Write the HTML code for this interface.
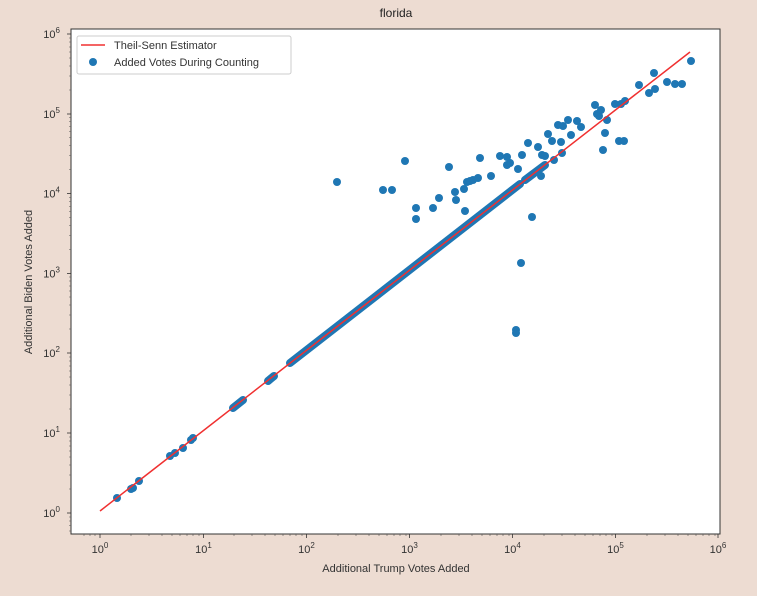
<!DOCTYPE html>
<html><head><meta charset="utf-8"><style>
html,body{margin:0;padding:0;background:#eddcd2;}
svg{display:block;font-family:"Liberation Sans","DejaVu Sans",sans-serif;}
</style></head><body>
<svg width="757" height="596" viewBox="0 0 757 596">
<rect width="757" height="596" fill="#eddcd2"/>
<rect x="71" y="29" width="649" height="505" fill="#fff" stroke="#333" stroke-width="1"/>
<text x="396" y="17" font-size="12" text-anchor="middle" fill="#222">florida</text>
<g stroke="#333" stroke-width="0.8">
<line x1="100" y1="534" x2="100" y2="538"/><line x1="203.5" y1="534" x2="203.5" y2="538"/><line x1="306.5" y1="534" x2="306.5" y2="538"/><line x1="409.5" y1="534" x2="409.5" y2="538"/><line x1="512.5" y1="534" x2="512.5" y2="538"/><line x1="615.5" y1="534" x2="615.5" y2="538"/><line x1="718" y1="534" x2="718" y2="538"/>
<line x1="67" y1="513" x2="71" y2="513"/><line x1="67" y1="433" x2="71" y2="433"/><line x1="67" y1="353" x2="71" y2="353"/><line x1="67" y1="273.5" x2="71" y2="273.5"/><line x1="67" y1="193.5" x2="71" y2="193.5"/><line x1="67" y1="114" x2="71" y2="114"/><line x1="67" y1="34" x2="71" y2="34"/>
</g>
<path stroke="#555" stroke-width="0.6" fill="none" d="
M84 534v2M90 534v2M95 534v2
M131 534v2M149 534v2M162 534v2M172 534v2M180 534v2M187 534v2M193 534v2M199 534v2
M234 534v2M252 534v2M265 534v2M275 534v2M283 534v2M290 534v2M296 534v2M302 534v2
M338 534v2M356 534v2M369 534v2M379 534v2M387 534v2M394 534v2M400 534v2M406 534v2
M441 534v2M459 534v2M472 534v2M482 534v2M490 534v2M497 534v2M503 534v2M509 534v2
M544 534v2M562 534v2M575 534v2M585 534v2M593 534v2M600 534v2M606 534v2M612 534v2
M647 534v2M665 534v2M678 534v2M688 534v2M696 534v2M703 534v2M709 534v2M715 534v2
M69 531h2M69 525.5h2M69 521h2M69 517h2
M69 489h2M69 475h2M69 465h2M69 457h2M69 451h2M69 446h2M69 441h2M69 437h2
M69 409h2M69 395h2M69 385h2M69 377h2M69 371h2M69 366h2M69 361h2M69 357h2
M69 329h2M69 315h2M69 305h2M69 297h2M69 291h2M69 286h2M69 281h2M69 277h2
M69 249.5h2M69 235.5h2M69 225.5h2M69 217.5h2M69 211.5h2M69 206.5h2M69 201.5h2M69 197.5h2
M69 169.5h2M69 155.5h2M69 145.5h2M69 137.5h2M69 131.5h2M69 126.5h2M69 121.5h2M69 117.5h2
M69 90h2M69 76h2M69 66h2M69 58h2M69 52h2M69 47h2M69 42h2M69 38h2"/>
<g font-size="11" fill="#333" text-anchor="middle">
<text x="100" y="553">10<tspan font-size="8" dy="-5">0</tspan></text>
<text x="203.5" y="553">10<tspan font-size="8" dy="-5">1</tspan></text>
<text x="306.5" y="553">10<tspan font-size="8" dy="-5">2</tspan></text>
<text x="409.5" y="553">10<tspan font-size="8" dy="-5">3</tspan></text>
<text x="512.5" y="553">10<tspan font-size="8" dy="-5">4</tspan></text>
<text x="615.5" y="553">10<tspan font-size="8" dy="-5">5</tspan></text>
<text x="718" y="553">10<tspan font-size="8" dy="-5">6</tspan></text>
</g>
<g font-size="11" fill="#333" text-anchor="end">
<text x="60" y="517">10<tspan font-size="8" dy="-5">0</tspan></text>
<text x="60" y="437">10<tspan font-size="8" dy="-5">1</tspan></text>
<text x="60" y="357">10<tspan font-size="8" dy="-5">2</tspan></text>
<text x="60" y="277.5">10<tspan font-size="8" dy="-5">3</tspan></text>
<text x="60" y="197.5">10<tspan font-size="8" dy="-5">4</tspan></text>
<text x="60" y="118">10<tspan font-size="8" dy="-5">5</tspan></text>
<text x="60" y="38">10<tspan font-size="8" dy="-5">6</tspan></text>
</g>
<text x="396" y="572" font-size="11" fill="#333" text-anchor="middle">Additional Trump Votes Added</text>
<text x="32" y="282" font-size="11" fill="#333" text-anchor="middle" transform="rotate(-90 32 282)">Additional Biden Votes Added</text>
<g stroke="#1f77b4" stroke-width="8" stroke-linecap="round">
<line x1="233" y1="408" x2="243" y2="400"/>
<line x1="268" y1="381" x2="274" y2="376"/>
<line x1="290" y1="363" x2="520" y2="184"/>
<line x1="525" y1="180" x2="545" y2="165"/>
</g>
<g fill="#1f77b4">
<circle cx="117" cy="498" r="4"/><circle cx="131" cy="489" r="4"/><circle cx="133" cy="488" r="4"/><circle cx="139" cy="481" r="4"/>
<circle cx="170" cy="456" r="4"/><circle cx="175" cy="453" r="4"/><circle cx="183" cy="448" r="4"/><circle cx="191" cy="440" r="4"/><circle cx="193" cy="438" r="4"/>
<circle cx="337" cy="182" r="4"/><circle cx="383" cy="190" r="4"/><circle cx="392" cy="190" r="4"/><circle cx="405" cy="161" r="4"/>
<circle cx="416" cy="208" r="4"/><circle cx="416" cy="219" r="4"/><circle cx="433" cy="208" r="4"/><circle cx="439" cy="198" r="4"/>
<circle cx="449" cy="167" r="4"/><circle cx="455" cy="192" r="4"/><circle cx="456" cy="200" r="4"/><circle cx="465" cy="211" r="4"/>
<circle cx="464" cy="189" r="4"/><circle cx="467" cy="182" r="4"/><circle cx="470" cy="181" r="4"/><circle cx="473" cy="180" r="4"/><circle cx="478" cy="178" r="4"/>
<circle cx="480" cy="158" r="4"/><circle cx="491" cy="176" r="4"/><circle cx="500" cy="156" r="4"/><circle cx="507" cy="157" r="4"/>
<circle cx="507" cy="165" r="4"/><circle cx="510" cy="163" r="4"/><circle cx="518" cy="169" r="4"/><circle cx="528" cy="143" r="4"/>
<circle cx="522" cy="155" r="4"/><circle cx="538" cy="147" r="4"/><circle cx="542" cy="155" r="4"/><circle cx="532" cy="217" r="4"/>
<circle cx="521" cy="263" r="4"/><circle cx="516" cy="330" r="4"/><circle cx="516" cy="333" r="4"/>
<circle cx="541" cy="176" r="4"/><circle cx="545" cy="156" r="4"/><circle cx="548" cy="134" r="4"/><circle cx="552" cy="141" r="4"/>
<circle cx="558" cy="125" r="4"/><circle cx="561" cy="142" r="4"/><circle cx="563" cy="126" r="4"/><circle cx="568" cy="120" r="4"/>
<circle cx="571" cy="135" r="4"/><circle cx="577" cy="121" r="4"/><circle cx="581" cy="127" r="4"/><circle cx="554" cy="160" r="4"/><circle cx="562" cy="153" r="4"/>
<circle cx="595" cy="105" r="4"/><circle cx="597" cy="114" r="4"/><circle cx="599" cy="116" r="4"/><circle cx="601" cy="110" r="4"/>
<circle cx="603" cy="150" r="4"/><circle cx="605" cy="133" r="4"/><circle cx="607" cy="120" r="4"/><circle cx="615" cy="104" r="4"/>
<circle cx="619" cy="141" r="4"/><circle cx="621" cy="104" r="4"/><circle cx="625" cy="101" r="4"/><circle cx="624" cy="141" r="4"/>
<circle cx="639" cy="85" r="4"/><circle cx="649" cy="93" r="4"/><circle cx="654" cy="73" r="4"/><circle cx="655" cy="89" r="4"/>
<circle cx="667" cy="82" r="4"/><circle cx="675" cy="84" r="4"/><circle cx="682" cy="84" r="4"/><circle cx="691" cy="61" r="4"/>
</g>
<line x1="100" y1="511" x2="690" y2="52" stroke="#f03030" stroke-width="1.5"/>
<rect x="77" y="36" width="214" height="38" fill="#fff" fill-opacity="0.85" stroke="#ccc" stroke-width="1" rx="2"/>
<line x1="81" y1="45" x2="105" y2="45" stroke="#f03030" stroke-width="1.5"/>
<circle cx="93" cy="62" r="4" fill="#1f77b4"/>
<text x="114" y="49" font-size="11" fill="#333">Theil-Senn Estimator</text>
<text x="114" y="66" font-size="11" fill="#333">Added Votes During Counting</text>
</svg>
</body></html>
